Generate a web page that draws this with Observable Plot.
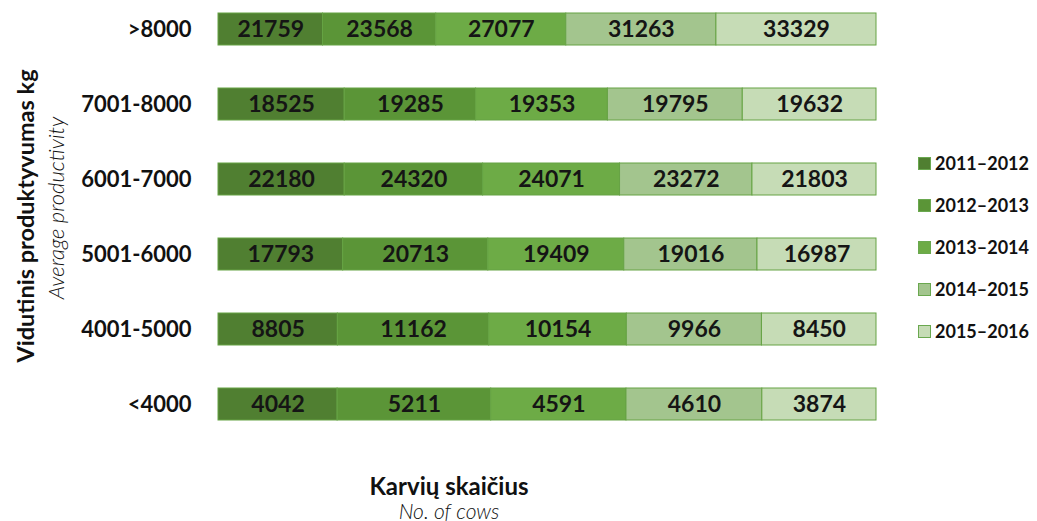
<!DOCTYPE html>
<html>
<head>
<meta charset="utf-8">
<script src="https://cdn.jsdelivr.net/npm/d3@7"></script>
<script src="https://cdn.jsdelivr.net/npm/@observablehq/plot@0.6"></script>
<style>
  body { margin: 0; background: #fff; font-family: Lato, "Open Sans", sans-serif; }
  #wrap { position: relative; width: 1037px; height: 521px; overflow: hidden; }
  #chart { position: absolute; left: 0; top: 0; }
  .abs { position: absolute; white-space: nowrap; color: #111; }
  .rot { transform: translate(-50%, -50%) rotate(-90deg); }
  .ctr { transform: translate(-50%, -50%); }
  .leg { position: absolute; left: 918px; display: flex; align-items: center; font-weight: bold; font-size: 18px; color: #111; }
  .leg span.sw { display: inline-block; width: 13px; height: 13px; margin-right: 4px; border: 1px solid #6aa84f; box-sizing: border-box; }
  #chart svg [aria-label="y-axis tick label"] text { font-weight: bold; }
</style>
</head>
<body>
<div id="wrap">
  <div id="chart"></div>
  <div class="abs rot" style="left:25px; top:216px; font-weight:bold; font-size:23.5px;">Vidutinis produktyvumas kg</div>
  <div class="abs rot" style="left:55px; top:208px; font-style:italic; font-weight:300; font-size:22px;">Average productivity</div>
  <div class="abs ctr" style="left:449px; top:485px; font-weight:bold; font-size:24px;">Karvių skaičius</div>
  <div class="abs ctr" style="left:449px; top:510px; font-style:italic; font-weight:300; font-size:21px;">No. of cows</div>
  <div id="legend"></div>
</div>
<script>
const categories = [">8000", "7001-8000", "6001-7000", "5001-6000", "4001-5000", "<4000"];
const years = ["2011–2012", "2012–2013", "2013–2014", "2014–2015", "2015–2016"];
const v2011_2012 = [21759, 18525, 22180, 17793, 8805, 4042];
const v2012_2013 = [23568, 19285, 24320, 20713, 11162, 5211];
const v2013_2014 = [27077, 19353, 24071, 19409, 10154, 4591];
const v2014_2015 = [31263, 19795, 23272, 19016, 9966, 4610];
const v2015_2016 = [33329, 19632, 21803, 16987, 8450, 3874];
const colors = ["#507f31", "#5b9537", "#6dab46", "#a3c58e", "#c6dcb6"];

const series = [v2011_2012, v2012_2013, v2013_2014, v2014_2015, v2015_2016];
const data = [];
years.forEach((yr, i) => categories.forEach((c, j) => data.push({cat: c, year: yr, value: series[i][j]})));

const chart = Plot.plot({
  width: 1037,
  height: 440,
  marginLeft: 218,
  marginRight: 161,
  marginTop: 0,
  marginBottom: 0,
  style: {fontFamily: "Lato, 'Open Sans', sans-serif", color: "#111", background: "transparent"},
  x: {axis: null},
  y: {domain: categories, range: [12, 420], paddingInner: 0.575, paddingOuter: 0, label: null, axis: null},
  color: {domain: years, range: colors},
  marks: [
    Plot.barX(data, Plot.stackX({x: "value", y: "cat", fill: "year", offset: "normalize", stroke: "#66a344", strokeWidth: 1})),
    Plot.text(data, Plot.stackX({x: "value", y: "cat", z: "year", text: d => String(d.value), offset: "normalize", fontSize: 23, fontWeight: "bold", fill: "#151515"})),
    Plot.axisY({domain: categories, tickSize: 0, tickPadding: 27, fontSize: 22, label: null, fill: "#111"})
  ]
});
document.getElementById("chart").appendChild(chart);

const legend = document.getElementById("legend");
const legendTops = [164, 206, 248, 290, 332];
years.forEach((yr, i) => {
  const d = document.createElement("div");
  d.className = "leg";
  d.style.top = (legendTops[i] - 12) + "px";
  d.innerHTML = `<span class="sw" style="background:${colors[i]}"></span>${yr}`;
  legend.appendChild(d);
});
</script>
</body>
</html>
